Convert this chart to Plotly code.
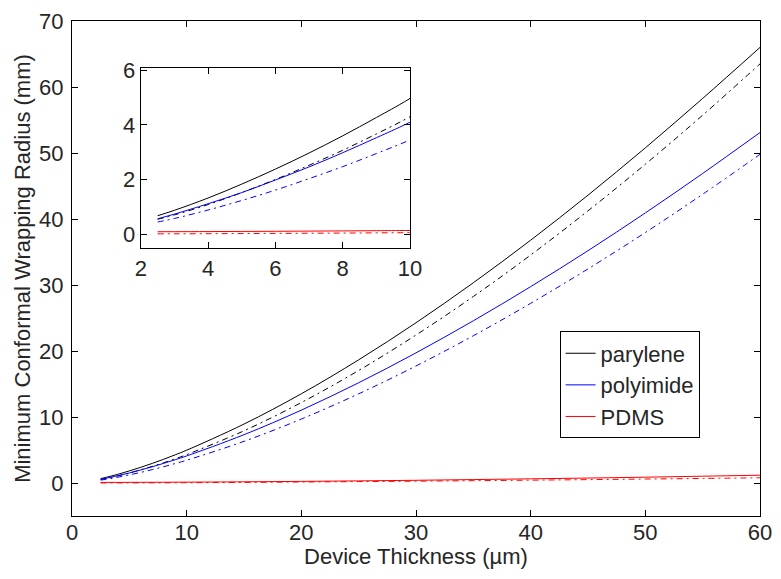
import plotly.graph_objects as go

# Device thickness (um) sampled along each curve
thickness = [2.5, 3, 4, 5, 6, 7, 8, 9, 10, 15, 20, 25, 30, 35, 40, 45, 50, 55, 60]

# Minimum conformal wrapping radius (mm), solid = model A, dash-dot = model B
parylene_solid = [0.67, 0.87, 1.32, 1.83, 2.38, 2.97, 3.60, 4.27, 4.97, 8.93, 13.52,
                  18.66, 24.28, 30.34, 36.79, 43.61, 50.78, 58.27, 66.0]
parylene_dash = [0.54, 0.70, 1.08, 1.52, 2.00, 2.52, 3.07, 3.67, 4.30, 7.91, 12.19,
                 17.05, 22.42, 28.26, 34.54, 41.24, 48.30, 55.73, 63.5]
polyimide_solid = [0.56, 0.73, 1.11, 1.52, 1.98, 2.46, 2.98, 3.53, 4.10, 7.32, 11.04,
                   15.19, 19.72, 24.58, 29.75, 35.20, 40.92, 46.90, 53.1]
polyimide_dash = [0.44, 0.57, 0.88, 1.23, 1.61, 2.03, 2.47, 2.95, 3.45, 6.31, 9.69,
                  13.51, 17.73, 22.31, 27.22, 32.44, 37.95, 43.75, 49.8]
pdms_solid = [0.085, 0.086, 0.09, 0.095, 0.10, 0.107, 0.114, 0.122, 0.13, 0.18, 0.245,
              0.32, 0.41, 0.52, 0.63, 0.75, 0.88, 1.03, 1.18]
pdms_dash = [0.006, 0.008, 0.012, 0.017, 0.023, 0.029, 0.035, 0.043, 0.05, 0.09, 0.15,
             0.21, 0.28, 0.35, 0.43, 0.51, 0.60, 0.69, 0.79]

series = [
    ("parylene", "#000000", parylene_solid, parylene_dash),
    ("polyimide", "#0000ff", polyimide_solid, polyimide_dash),
    ("PDMS", "#ff0000", pdms_solid, pdms_dash),
]

main_xticks = [0, 10, 20, 30, 40, 50, 60]
main_yticks = [0, 10, 20, 30, 40, 50, 60, 70]
inset_xticks = [2, 4, 6, 8, 10]
inset_yticks = [0, 2, 4, 6]

DASHDOT = "6px,4px,2px,4px"
FONT = "Liberation Sans, Arial, Helvetica, sans-serif"
TEXT = "#262626"
FS = 22

fig = go.Figure()

for name, color, solid, dash in series:
    for xa, ya, show in (("x", "y", True), ("x2", "y2", False)):
        fig.add_trace(go.Scatter(
            x=thickness, y=solid, mode="lines", name=name,
            showlegend=show, line=dict(color=color, width=1, shape="spline"),
            xaxis=xa, yaxis=ya, hoverinfo="skip"))
        fig.add_trace(go.Scatter(
            x=thickness, y=dash, mode="lines", name=name + " (dash-dot)",
            showlegend=False,
            line=dict(color=color, width=1, dash=DASHDOT, shape="spline"),
            xaxis=xa, yaxis=ya, hoverinfo="skip"))

axis_common = dict(
    showgrid=False, zeroline=False, showline=True, linecolor="#000000",
    linewidth=1.2, mirror="allticks", ticks="inside", ticklen=6,
    tickcolor="#000000", tickwidth=1,
    tickfont=dict(family=FONT, size=FS, color=TEXT),
)

fig.update_layout(
    width=781, height=579,
    margin=dict(l=72, r=19, t=9, b=63),
    paper_bgcolor="white", plot_bgcolor="white",
    font=dict(family=FONT, size=FS, color=TEXT),
    xaxis=dict(
        axis_common, range=[0, 60], tickvals=main_xticks, domain=[0, 1],
        ticklabelstandoff=-4,
        title=dict(text="Device Thickness (µm)", standoff=0,
                   font=dict(family=FONT, size=FS, color=TEXT)),
    ),
    yaxis=dict(
        axis_common, range=[-5, 70], tickvals=main_yticks, domain=[0, 1],
        ticklabelstandoff=3,
        title=dict(text="Minimum Conformal Wrapping Radius (mm)", standoff=2,
                   font=dict(family=FONT, size=FS, color=TEXT)),
    ),
    xaxis2=dict(
        axis_common, range=[2, 10], tickvals=inset_xticks,
        domain=[0.1, 0.4913], anchor="y2",
    ),
    yaxis2=dict(
        axis_common, range=[-0.52, 6.08], tickvals=inset_yticks,
        domain=[0.541, 0.9047], anchor="x2",
    ),
    legend=dict(
        x=0.7087, y=0.3728, xanchor="left", yanchor="top",
        bgcolor="white", bordercolor="#000000", borderwidth=1,
        font=dict(family=FONT, size=FS, color=TEXT),
        itemwidth=30,
    ),
    showlegend=True,
)

fig.write_html("out.html")
